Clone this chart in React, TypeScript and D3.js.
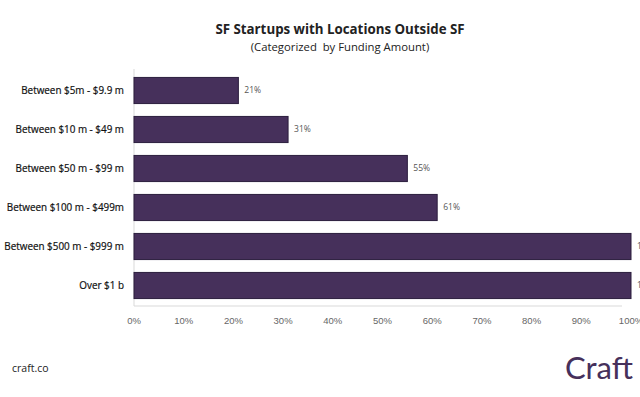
import React from "react";
import * as d3 from "d3";

const categories = [
  "Between $5m - $9.9 m",
  "Between $10 m - $49 m",
  "Between $50 m - $99 m",
  "Between $100 m - $499m",
  "Between $500 m - $999 m",
  "Over $1 b",
];
const values = [21, 31, 55, 61, 100, 100];
const ticks = [0, 10, 20, 30, 40, 50, 60, 70, 80, 90, 100];

const W = 640;
const H = 397;
const left = 134;
const right = 631;
const top = 71;
const bottom = 305;

export default function App() {
  const x = d3.scaleLinear().domain([0, 100]).range([left, right]);
  const y = d3
    .scaleBand<string>()
    .domain(categories)
    .range([top, bottom])
    .paddingInner(0.33)
    .paddingOuter(0.165);
  const font = "'Open Sans', sans-serif";
  return (
    <svg
      width={W}
      height={H}
      style={{ position: "absolute", left: 0, top: 0, background: "#fff" }}
    >
      <text x={340} y={34} textAnchor="middle" fontFamily={font} fontWeight="bold" fontSize={13.3} fill="#222">
        SF Startups with Locations Outside SF
      </text>
      <text x={340} y={51} textAnchor="middle" fontFamily={font} fontSize={11.3} fill="#222" style={{ whiteSpace: "pre" }}>
        (Categorized  by Funding Amount)
      </text>
      <line x1={left} x2={left} y1={top - 2} y2={bottom + 1} stroke="#d9d9d9" strokeWidth={1} />
      <line x1={left} x2={622} y1={bottom + 1} y2={bottom + 1} stroke="#d9d9d9" strokeWidth={1} />
      {categories.map((c, i) => (
        <g key={c}>
          <rect
            x={x(0)}
            y={y(c)!}
            width={x(values[i]) - x(0)}
            height={y.bandwidth()}
            fill="#46305b"
            stroke="#2b1d3d"
            strokeWidth={1}
          />
          <text
            x={124}
            y={y(c)! + y.bandwidth() / 2}
            dy="0.35em"
            textAnchor="end"
            fontFamily={font}
            fontSize={9.9}
            fill="#111"
            stroke="#111"
            strokeWidth={0.2}
          >
            {c}
          </text>
          <text
            x={x(values[i]) + 6}
            y={y(c)! + y.bandwidth() / 2}
            dy="0.35em"
            fontFamily={font}
            fontSize={8.5}
            fill="#555"
          >
            {values[i]}%
          </text>
        </g>
      ))}
      {ticks.map((t) => (
        <text
          key={t}
          x={x(t)}
          y={323.5}
          textAnchor="middle"
          fontFamily="'Liberation Sans', Arial, sans-serif"
          fontSize={9.5}
          fill="#666"
        >
          {t}%
        </text>
      ))}
      <text x={12} y={372} fontFamily={font} fontSize={10.5} fill="#222">
        craft.co
      </text>
      <text x={633} y={379} textAnchor="end" fontFamily="Lato, 'Open Sans', sans-serif" fontSize={31} fill="#46305b">
        Craft
      </text>
    </svg>
  );
}
